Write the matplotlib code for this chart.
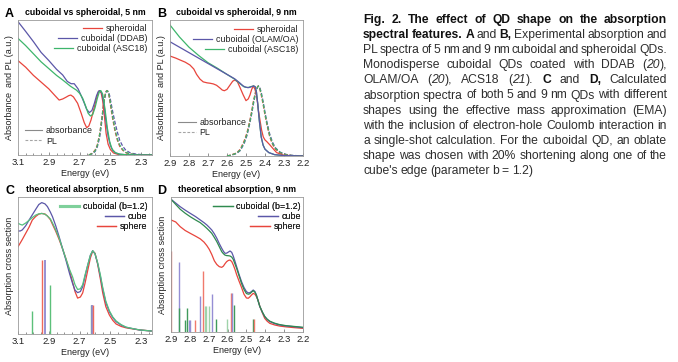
import re
import matplotlib
matplotlib.use('Agg')
import matplotlib.pyplot as plt
from matplotlib.lines import Line2D
from matplotlib.ticker import MultipleLocator

plt.rcParams['font.family'] = ['Liberation Sans', 'DejaVu Sans']
plt.rcParams['font.size'] = 6.3

RED = '#e8453c'
BLUE = '#5b57a8'
GREEN = '#3db56b'
GREEN_C = '#55c07f'
GREEN_D = '#2f8a4f'

# ---------------- panel A: 5 nm, experiment ----------------
a_blue_E = [3.10, 3.05, 3.00, 2.95, 2.90, 2.85, 2.81, 2.78, 2.755, 2.735, 2.71, 2.69, 2.67, 2.655,
            2.637, 2.62, 2.605, 2.59, 2.578, 2.567, 2.555, 2.54, 2.528, 2.515, 2.50, 2.485, 2.465,
            2.44, 2.40, 2.30, 2.23]
a_blue = [0.988, 0.915, 0.84, 0.76, 0.70, 0.635, 0.593, 0.545, 0.528, 0.528, 0.49, 0.44, 0.385, 0.34,
          0.314, 0.33, 0.38, 0.44, 0.472, 0.477, 0.455, 0.36, 0.24, 0.14, 0.07, 0.035, 0.015,
          0.006, 0.002, 0, 0]
a_green_E = [3.10, 3.05, 3.00, 2.95, 2.90, 2.85, 2.81, 2.76, 2.72, 2.70, 2.68, 2.66, 2.645, 2.63, 2.615,
             2.60, 2.585, 2.572, 2.562, 2.55, 2.535, 2.52, 2.505, 2.49, 2.47, 2.44, 2.40, 2.30, 2.23]
a_green = [0.864, 0.81, 0.75, 0.69, 0.64, 0.59, 0.556, 0.51, 0.48, 0.457, 0.42, 0.36, 0.31, 0.289, 0.30,
           0.35, 0.42, 0.468, 0.477, 0.45, 0.34, 0.2, 0.1, 0.045, 0.018, 0.006, 0.002, 0, 0]
a_red_E = [3.10, 3.05, 3.00, 2.95, 2.90, 2.86, 2.833, 2.81, 2.79, 2.77, 2.757, 2.74, 2.713, 2.69, 2.67,
           2.654, 2.64, 2.626, 2.61, 2.593, 2.58, 2.572, 2.56, 2.55, 2.54, 2.528, 2.515, 2.50, 2.48,
           2.45, 2.40, 2.23]
a_red = [0.699, 0.65, 0.59, 0.54, 0.49, 0.44, 0.407, 0.415, 0.427, 0.44, 0.444, 0.43, 0.383, 0.31, 0.24,
         0.202, 0.215, 0.259, 0.33, 0.407, 0.46, 0.477, 0.46, 0.40, 0.30, 0.16, 0.08, 0.04, 0.015,
         0.004, 0.0, 0]
a_pl_E = [2.64, 2.62, 2.60, 2.585, 2.57, 2.56, 2.55, 2.54, 2.53, 2.522, 2.513, 2.505, 2.495, 2.485, 2.47,
          2.455, 2.44, 2.42, 2.40, 2.37, 2.33, 2.28, 2.23]
a_pl_green = [0.0, 0.01, 0.03, 0.07, 0.15, 0.23, 0.32, 0.41, 0.465, 0.477, 0.465, 0.42, 0.35, 0.28, 0.19,
              0.12, 0.075, 0.04, 0.02, 0.008, 0.003, 0.001, 0]
a_pl_red = [0.0, 0.012, 0.035, 0.075, 0.155, 0.235, 0.325, 0.415, 0.47, 0.477, 0.46, 0.41, 0.335, 0.265,
            0.175, 0.11, 0.065, 0.035, 0.017, 0.007, 0.002, 0.001, 0]
a_pl_blue = [0.0, 0.008, 0.025, 0.06, 0.13, 0.21, 0.30, 0.40, 0.46, 0.477, 0.47, 0.44, 0.38, 0.32, 0.24,
             0.17, 0.11, 0.065, 0.035, 0.015, 0.006, 0.002, 0]

# ---------------- panel B: 9 nm, experiment ----------------
b_blue_E = [2.90, 2.85, 2.80, 2.75, 2.70, 2.65, 2.60, 2.56, 2.535, 2.515, 2.50, 2.485, 2.47, 2.46, 2.452,
            2.445, 2.438, 2.43, 2.42, 2.41, 2.40, 2.38, 2.35, 2.30, 2.20]
b_blue = [0.84, 0.80, 0.76, 0.72, 0.68, 0.64, 0.60, 0.568, 0.54, 0.515, 0.505, 0.503, 0.51, 0.515, 0.51,
          0.47, 0.38, 0.26, 0.14, 0.08, 0.05, 0.025, 0.01, 0.003, 0]
b_green_E = [2.90, 2.85, 2.80, 2.75, 2.70, 2.65, 2.60, 2.56, 2.53, 2.51, 2.49, 2.475, 2.46, 2.452, 2.445,
             2.438, 2.43, 2.42, 2.41, 2.40, 2.38, 2.35, 2.30, 2.20]
b_green = [0.963, 0.875, 0.80, 0.74, 0.686, 0.645, 0.60, 0.565, 0.53, 0.508, 0.503, 0.51, 0.515, 0.51,
           0.47, 0.38, 0.26, 0.14, 0.08, 0.05, 0.025, 0.01, 0.003, 0]
b_red_E = [2.9, 2.87, 2.847, 2.82, 2.795, 2.775, 2.76, 2.742, 2.725, 2.705, 2.689, 2.672, 2.655, 2.637,
           2.625, 2.614, 2.60, 2.584, 2.57, 2.558, 2.545, 2.532, 2.515, 2.5, 2.488, 2.479, 2.47, 2.461,
           2.453, 2.447, 2.44, 2.435, 2.426, 2.418, 2.409, 2.40, 2.39, 2.374, 2.355, 2.339, 2.3, 2.2]
b_red = [0.735, 0.72, 0.706, 0.69, 0.669, 0.64, 0.60, 0.565, 0.545, 0.538, 0.535, 0.53, 0.52, 0.50,
         0.485, 0.48, 0.49, 0.522, 0.55, 0.559, 0.545, 0.505, 0.45, 0.407, 0.42, 0.449, 0.49, 0.515,
         0.49, 0.461, 0.40, 0.338, 0.26, 0.191, 0.14, 0.118, 0.105, 0.081, 0.05, 0.025, 0.005, 0]
b_pl_E = [2.60, 2.58, 2.55, 2.53, 2.51, 2.495, 2.48, 2.47, 2.46, 2.45, 2.44, 2.435, 2.428, 2.42, 2.41,
          2.40, 2.39, 2.375, 2.36, 2.345, 2.32, 2.29, 2.26, 2.2]
b_pl_green = [0.0, 0.006, 0.02, 0.045, 0.1, 0.16, 0.25, 0.32, 0.4, 0.465, 0.505, 0.515, 0.5, 0.46, 0.39,
              0.31, 0.24, 0.15, 0.09, 0.055, 0.025, 0.01, 0.004, 0]
b_pl_red = [0.0, 0.007, 0.022, 0.05, 0.11, 0.17, 0.26, 0.33, 0.41, 0.47, 0.508, 0.515, 0.495, 0.45, 0.38,
            0.30, 0.23, 0.14, 0.085, 0.05, 0.022, 0.009, 0.003, 0]
b_pl_blue = [0.0, 0.005, 0.018, 0.04, 0.09, 0.15, 0.24, 0.31, 0.39, 0.46, 0.503, 0.515, 0.505, 0.47, 0.40,
             0.32, 0.25, 0.16, 0.10, 0.06, 0.028, 0.012, 0.005, 0]

# ---------------- panel C: 5 nm, theory ----------------
c_E = [3.1, 3.085, 3.072, 3.05, 3.028, 3.007, 2.985, 2.965, 2.946, 2.925, 2.909, 2.89, 2.876, 2.855,
       2.833, 2.81, 2.789, 2.765, 2.746, 2.73, 2.713, 2.695, 2.68, 2.665, 2.648, 2.63, 2.615, 2.60,
       2.583, 2.565, 2.55, 2.53, 2.507, 2.485, 2.463, 2.43, 2.398, 2.35, 2.311, 2.235]
c_cube = [0.752, 0.752, 0.76, 0.79, 0.832, 0.87, 0.91, 0.945, 0.959, 0.95, 0.93, 0.89, 0.856, 0.79,
          0.71, 0.62, 0.54, 0.44, 0.37, 0.32, 0.302, 0.31, 0.345, 0.42, 0.50, 0.575, 0.608, 0.585,
          0.516, 0.42, 0.33, 0.23, 0.163, 0.12, 0.09, 0.065, 0.049, 0.038, 0.029, 0.022]
c_cuboidal = [0.808, 0.80, 0.795, 0.81, 0.83, 0.85, 0.868, 0.877, 0.88, 0.874, 0.861, 0.84, 0.81, 0.76,
              0.70, 0.62, 0.55, 0.47, 0.418, 0.36, 0.325, 0.33, 0.36, 0.43, 0.50, 0.575, 0.608, 0.585,
              0.52, 0.43, 0.34, 0.24, 0.17, 0.125, 0.095, 0.068, 0.05, 0.038, 0.03, 0.022]
c_sphere = [0.637, 0.665, 0.69, 0.735, 0.78, 0.832, 0.858, 0.875, 0.88, 0.876, 0.861, 0.835, 0.80, 0.75,
            0.69, 0.62, 0.55, 0.46, 0.38, 0.31, 0.262, 0.27, 0.30, 0.37, 0.46, 0.555, 0.605, 0.59,
            0.51, 0.40, 0.30, 0.2, 0.139, 0.1, 0.073, 0.055, 0.045, 0.036, 0.03, 0.022]
c_stick_E = [3.007, 2.941, 2.924, 2.894, 2.626, 2.618, 2.614]
c_stick_h = [0.17, 0.54, 0.54, 0.36, 0.21, 0.21, 0.21]
c_stick_c = ['g', 'r', 'b', 'g', 'g', 'b', 'r']

# ---------------- panel D: 9 nm, theory ----------------
d_E = [2.9, 2.875, 2.851, 2.825, 2.798, 2.77, 2.745, 2.725, 2.71, 2.697, 2.684, 2.67, 2.657, 2.644,
       2.631, 2.622, 2.614, 2.605, 2.596, 2.587, 2.578, 2.57, 2.561, 2.552, 2.54, 2.526, 2.513, 2.5,
       2.49, 2.482, 2.473, 2.464, 2.455, 2.447, 2.438, 2.429, 2.415, 2.403, 2.39, 2.376, 2.35, 2.324,
       2.29, 2.253, 2.2]
d_cube = [0.983, 0.955, 0.928, 0.903, 0.879, 0.855, 0.83, 0.81, 0.793, 0.775, 0.756, 0.727, 0.694, 0.655,
          0.62, 0.598, 0.583, 0.584, 0.592, 0.6, 0.59, 0.563, 0.525, 0.484, 0.43, 0.373, 0.33, 0.299,
          0.29, 0.291, 0.3, 0.311, 0.3, 0.274, 0.23, 0.188, 0.145, 0.114, 0.093, 0.077, 0.062, 0.052,
          0.045, 0.04, 0.032]
d_cuboidal = [0.983, 0.945, 0.909, 0.88, 0.854, 0.83, 0.81, 0.787, 0.768, 0.75, 0.731, 0.70, 0.669,
              0.632, 0.595, 0.58, 0.57, 0.566, 0.565, 0.563, 0.555, 0.538, 0.505, 0.472, 0.42, 0.36,
              0.315, 0.285, 0.28, 0.283, 0.295, 0.306, 0.295, 0.272, 0.23, 0.19, 0.147, 0.116, 0.095,
              0.08, 0.065, 0.055, 0.047, 0.042, 0.035]
d_sphere = [0.83, 0.815, 0.78, 0.752, 0.731, 0.71, 0.69, 0.666, 0.64, 0.612, 0.575, 0.527, 0.5, 0.484,
            0.479, 0.488, 0.505, 0.521, 0.53, 0.533, 0.522, 0.498, 0.465, 0.425, 0.38, 0.33, 0.28,
            0.252, 0.25, 0.26, 0.274, 0.286, 0.28, 0.262, 0.235, 0.19, 0.14, 0.101, 0.08, 0.064,
            0.052, 0.044, 0.038, 0.033, 0.027]
d_stick_E = [2.898, 2.856, 2.856, 2.828, 2.816, 2.802, 2.797, 2.772, 2.745, 2.728, 2.722, 2.716, 2.70,
             2.685, 2.664, 2.604, 2.583, 2.576, 2.564, 2.466, 2.462]
d_stick_h = [0.60, 0.52, 0.175, 0.09, 0.18, 0.09, 0.09, 0.09, 0.27, 0.454, 0.19, 0.19, 0.19, 0.28, 0.10,
             0.10, 0.29, 0.29, 0.20, 0.10, 0.10]
d_stick_c = ['r', 'b', 'g', 'g', 'g', 'b', 'b', 'r', 'b', 'r', 'lg', 'lg', 'lg', 'b', 'g', 'lg', 'r',
             'b', 'g', 'g', 'r']

stick_colors = {'r': '#f07a6c', 'b': '#958ed4', 'g': '#3f9a5c', 'lg': '#9fd3aa'}
stick_colors_c = {'r': '#f06a5a', 'b': '#8f88cf', 'g': '#5cc07a'}

caption = [
    "*Fig.* *2.* *The* *effect* *of* *QD* *shape* *on* *the* *absorption*",
    "*spectral* *features.* *A* and *B,* Experimental absorption and",
    "PL spectra of 5 nm and 9 nm cuboidal and spheroidal QDs.",
    "Monodisperse cuboidal QDs coated with DDAB (_20_),",
    "OLAM/OA (_20_), ACS18 (_21_). *C* and *D,* Calculated",
    "absorption spectra of both 5 and 9 nm QDs with different",
    "shapes using the effective mass approximation (EMA)",
    "with the inclusion of electron-hole Coulomb interaction in",
    "a single-shot calculation. For the cuboidal QD, an oblate",
    "shape was chosen with 20% shortening along one of the",
    "cube's edge (parameter b = 1.2)",
]

W, H = 678, 362
fig = plt.figure(figsize=(W / 100, H / 100), dpi=100)


def box(x0, top, x1, bottom):
    return [x0 / W, 1 - bottom / H, (x1 - x0) / W, (bottom - top) / H]


axA = fig.add_axes(box(18, 20, 152, 155))
axB = fig.add_axes(box(170, 20, 303, 156))
axC = fig.add_axes(box(18, 197, 152, 334))
axD = fig.add_axes(box(171, 197, 303, 332))


def style(ax, xlim, ticks, minor, ylabel, title):
    ax.set_xlim(*xlim)
    ax.set_ylim(0, 1)
    ax.set_xticks(ticks)
    ax.set_xticklabels([f'{t:.1f}' for t in ticks])
    if minor:
        ax.xaxis.set_minor_locator(MultipleLocator(minor))
    ax.set_yticks([])
    ax.tick_params(axis='x', which='both', direction='in', length=2, width=0.5, color='#666',
                   labelsize=6.8, pad=2.5, labelcolor='#222')
    ax.tick_params(axis='x', which='minor', length=1.5)
    for s in ax.spines.values():
        s.set_color('#9a9a9a')
        s.set_linewidth(0.6)
    ax.set_xlabel('Energy (eV)', fontsize=6.5, labelpad=1, color='#222')
    ax.set_ylabel(ylabel, fontsize=6.5, labelpad=3, color='#222')
    ax.set_title(title, fontsize=6.3, fontweight='bold', pad=3.5)


def top_legend(ax, handles, labels, anchor):
    leg = ax.legend(handles, labels, loc='upper right', bbox_to_anchor=anchor, frameon=False,
                    fontsize=6.4, handlelength=2.2, handletextpad=0.4, labelspacing=0.12,
                    borderpad=0, borderaxespad=0)
    leg._legend_handle_box.get_children()[0].align = 'right'
    for t in leg.get_texts():
        t.set_color('#222')
    ax.add_artist(leg)
    return leg


def type_legend(ax, anchor):
    hs = [Line2D([], [], color='#8a8a8a', lw=0.8),
          Line2D([], [], color='#a5a5a5', lw=0.8, ls=(0, (2.5, 1.5)))]
    leg = ax.legend(hs, ['absorbance', 'PL'], loc='lower left', bbox_to_anchor=anchor, frameon=False,
                    fontsize=6.4, handlelength=2.0, handletextpad=0.4, labelspacing=0.15,
                    borderpad=0, borderaxespad=0)
    for t in leg.get_texts():
        t.set_color('#222')


dash = (0, (3, 1.5))
lw = 0.9
ticks_5 = [3.1, 2.9, 2.7, 2.5, 2.3]
ticks_9 = [2.9, 2.8, 2.7, 2.6, 2.5, 2.4, 2.3, 2.2]

# A
axA.plot(a_pl_E, a_pl_blue, color=BLUE, lw=lw, ls=dash)
axA.plot(a_pl_E, a_pl_red, color=RED, lw=lw, ls=dash)
axA.plot(a_pl_E, a_pl_green, color=GREEN, lw=lw, ls=dash)
lr, = axA.plot(a_red_E, a_red, color=RED, lw=lw)
lb, = axA.plot(a_blue_E, a_blue, color=BLUE, lw=lw)
lg, = axA.plot(a_green_E, a_green, color=GREEN, lw=lw)
style(axA, (3.1, 2.23), ticks_5, 0.05, 'Absorbance  and PL (a.u.)', 'cuboidal vs spheroidal, 5 nm')
top_legend(axA, [lr, lb, lg], ['spheroidal', 'cuboidal (DDAB)', 'cuboidal (ASC18)'], (0.965, 0.97))
type_legend(axA, (0.05, 0.07))

# B
axB.plot(b_pl_E, b_pl_blue, color=BLUE, lw=lw, ls=dash)
axB.plot(b_pl_E, b_pl_red, color=RED, lw=lw, ls=dash)
axB.plot(b_pl_E, b_pl_green, color=GREEN, lw=lw, ls=dash)
lr, = axB.plot(b_red_E, b_red, color=RED, lw=lw)
lg, = axB.plot(b_green_E, b_green, color=GREEN, lw=lw)
lb, = axB.plot(b_blue_E, b_blue, color=BLUE, lw=lw)
style(axB, (2.9, 2.2), ticks_9, None, 'Absorbance  and PL (a.u.)', 'cuboidal vs spheroidal, 9 nm')
top_legend(axB, [lr, lb, lg], ['spheroidal', 'cuboidal (OLAM/OA)', 'cuboidal (ASC18)'], (0.965, 0.965))
type_legend(axB, (0.06, 0.14))

# C
for e, h, c in zip(c_stick_E, c_stick_h, c_stick_c):
    axC.vlines(e, 0, h, color=stick_colors_c[c], lw=1.3 if c == 'b' else 1.0)
lr, = axC.plot(c_E, c_sphere, color=RED, lw=lw)
lb, = axC.plot(c_E, c_cube, color=BLUE, lw=lw)
lg, = axC.plot(c_E, c_cuboidal, color=GREEN_C, lw=lw)
style(axC, (3.1, 2.23), ticks_5, 0.05, 'Absorption cross section', 'theoretical absorption, 5 nm')
top_legend(axC, [Line2D([], [], color='#7fd09b', lw=2.2), lb, lr],
           ['cuboidal (b=1.2)', 'cube', 'sphere'], (0.965, 0.965))

# D
for e, h, c in zip(d_stick_E, d_stick_h, d_stick_c):
    axD.vlines(e, 0, h, color=stick_colors[c], lw=1.0)
lr, = axD.plot(d_E, d_sphere, color=RED, lw=lw)
lb, = axD.plot(d_E, d_cube, color=BLUE, lw=lw)
lg, = axD.plot(d_E, d_cuboidal, color=GREEN_D, lw=lw)
style(axD, (2.9, 2.2), ticks_9, None, 'Absorption cross section', 'theoretical absorption, 9 nm')
top_legend(axD, [lg, lb, lr], ['cuboidal (b=1.2)', 'cube', 'sphere'], (0.985, 0.965))

for letter, x, y in [('A', 5, 14), ('B', 157, 14), ('C', 5, 191), ('D', 157, 191)]:
    fig.text(x / W, 1 - y / H, letter, fontsize=9, fontweight='bold', va='center', ha='left')

# ---------------- caption, justified by hand ----------------
renderer = fig.canvas.get_renderer()
cap_x0, cap_x1 = 363, 667
cap_y0, cap_dy = 23, 15.1


def parse(word):
    segs = []
    for s in re.findall(r'\*[^*]+\*|_[^_]+_|[^*_]+', word):
        if s.startswith('*'):
            segs.append((s[1:-1], 'bold', 'normal'))
        elif s.startswith('_'):
            segs.append((s[1:-1], 'normal', 'italic'))
        else:
            segs.append((s, 'normal', 'normal'))
    return segs


def seg_width(text, weight, fstyle, fs):
    t = fig.text(0, 0, text, fontsize=fs, fontweight=weight, fontstyle=fstyle)
    w = t.get_window_extent(renderer).width
    t.remove()
    return w


words_per_line = [[parse(w) for w in line.split(' ')] for line in caption]

# largest size at which every justified line fits with spaces squeezed to 55 %
fs = 9.5
while fs > 6:
    space = 0.278 * fs * 100 / 72
    ok = True
    for words in words_per_line[:-1]:
        tot = sum(seg_width(s, wt, st, fs) for w in words for (s, wt, st) in w)
        if tot + 0.55 * space * (len(words) - 1) > cap_x1 - cap_x0:
            ok = False
            break
    if ok:
        break
    fs -= 0.1

space = 0.278 * fs * 100 / 72
for i, words in enumerate(words_per_line):
    widths = [[seg_width(s, wt, st, fs) for (s, wt, st) in w] for w in words]
    total = sum(sum(ws) for ws in widths)
    last = i == len(words_per_line) - 1
    gap = 0.8 * space if last or len(words) < 2 else (cap_x1 - cap_x0 - total) / (len(words) - 1)
    x = cap_x0
    y = 1 - (cap_y0 + i * cap_dy) / H
    for w, ws in zip(words, widths):
        for (s, wt, st), sw in zip(w, ws):
            fig.text(x / W, y, s, fontsize=fs, fontweight=wt, fontstyle=st, va='baseline',
                     color='#111' if wt == 'bold' else '#2e2e2e')
            x += sw
        x += gap

fig.savefig('out.png', dpi=100)
